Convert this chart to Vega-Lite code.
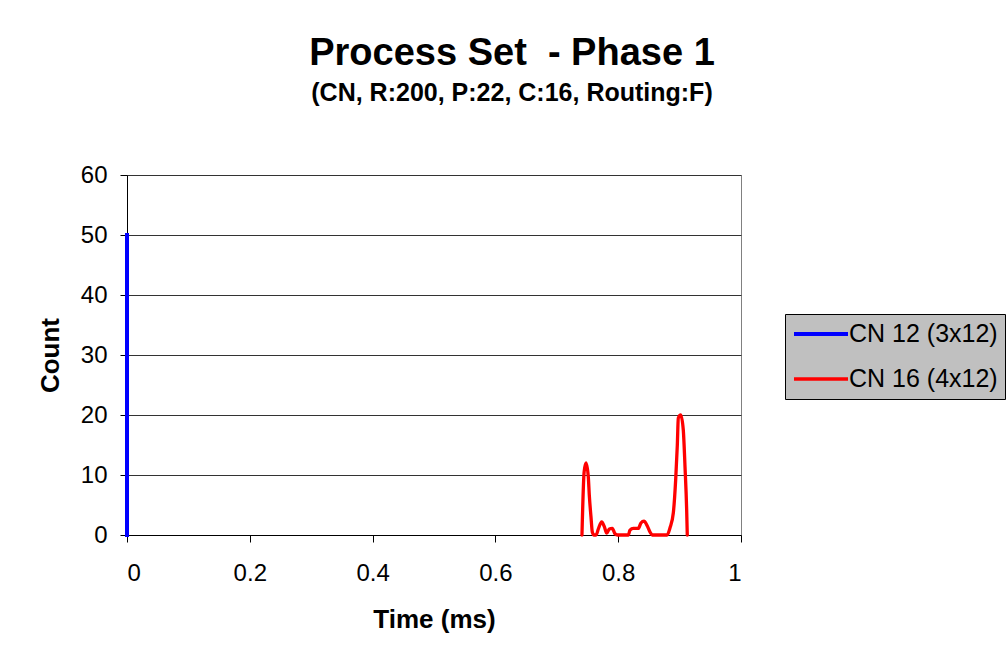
{
  "$schema": "https://vega.github.io/schema/vega-lite/v6.json",
  "width": 614,
  "height": 360,
  "autosize": {"type": "none"},
  "padding": {"left": 127, "top": 175, "right": 267, "bottom": 125},
  "background": "white",
  "title": {
    "text": "Process Set \u00a0- Phase 1",
    "subtitle": "(CN, R:200, P:22, C:16, Routing:F)",
    "anchor": "middle",
    "dx": 78,
    "offset": 57,
    "font": "Liberation Sans",
    "fontSize": 38,
    "fontWeight": "bold",
    "color": "black",
    "subtitleFont": "Liberation Sans",
    "subtitleFontSize": 25,
    "subtitleFontWeight": "bold",
    "subtitleColor": "black",
    "subtitlePadding": 8
  },
  "data": {
    "values": [
      {"series": "CN 12 (3x12)", "time": 0, "count": 0},
      {"series": "CN 12 (3x12)", "time": 0, "count": 50},
      {"series": "CN 16 (4x12)", "time": 0.741, "count": 0},
      {"series": "CN 16 (4x12)", "time": 0.7445, "count": 10.5},
      {"series": "CN 16 (4x12)", "time": 0.7476, "count": 12},
      {"series": "CN 16 (4x12)", "time": 0.7513, "count": 9.7},
      {"series": "CN 16 (4x12)", "time": 0.7529, "count": 6.7},
      {"series": "CN 16 (4x12)", "time": 0.7557, "count": 3},
      {"series": "CN 16 (4x12)", "time": 0.7578, "count": 0.5},
      {"series": "CN 16 (4x12)", "time": 0.7606, "count": 0},
      {"series": "CN 16 (4x12)", "time": 0.764, "count": 0},
      {"series": "CN 16 (4x12)", "time": 0.7676, "count": 1},
      {"series": "CN 16 (4x12)", "time": 0.7731, "count": 2.2},
      {"series": "CN 16 (4x12)", "time": 0.7774, "count": 1.4},
      {"series": "CN 16 (4x12)", "time": 0.7813, "count": 0.3},
      {"series": "CN 16 (4x12)", "time": 0.7855, "count": 1},
      {"series": "CN 16 (4x12)", "time": 0.7904, "count": 1.1},
      {"series": "CN 16 (4x12)", "time": 0.7948, "count": 0.2},
      {"series": "CN 16 (4x12)", "time": 0.799, "count": 0},
      {"series": "CN 16 (4x12)", "time": 0.8164, "count": 0},
      {"series": "CN 16 (4x12)", "time": 0.8192, "count": 0.8},
      {"series": "CN 16 (4x12)", "time": 0.8246, "count": 1.1},
      {"series": "CN 16 (4x12)", "time": 0.8327, "count": 1.1},
      {"series": "CN 16 (4x12)", "time": 0.8371, "count": 2},
      {"series": "CN 16 (4x12)", "time": 0.842, "count": 2.3},
      {"series": "CN 16 (4x12)", "time": 0.8474, "count": 1.5},
      {"series": "CN 16 (4x12)", "time": 0.8518, "count": 0.5},
      {"series": "CN 16 (4x12)", "time": 0.8555, "count": 0},
      {"series": "CN 16 (4x12)", "time": 0.8795, "count": 0},
      {"series": "CN 16 (4x12)", "time": 0.8844, "count": 1.2},
      {"series": "CN 16 (4x12)", "time": 0.8898, "count": 3.7},
      {"series": "CN 16 (4x12)", "time": 0.8936, "count": 9.2},
      {"series": "CN 16 (4x12)", "time": 0.8963, "count": 15},
      {"series": "CN 16 (4x12)", "time": 0.8979, "count": 19.5},
      {"series": "CN 16 (4x12)", "time": 0.9018, "count": 20},
      {"series": "CN 16 (4x12)", "time": 0.906, "count": 17.5},
      {"series": "CN 16 (4x12)", "time": 0.9088, "count": 11.4},
      {"series": "CN 16 (4x12)", "time": 0.9115, "count": 4.2},
      {"series": "CN 16 (4x12)", "time": 0.9125, "count": 0}
    ]
  },
  "encoding": {
    "x": {
      "field": "time",
      "type": "quantitative",
      "title": "Time (ms)",
      "scale": {"domain": [0, 1], "nice": false},
      "axis": {
        "values": [0, 0.2, 0.4, 0.6, 0.8, 1],
        "format": "~g",
        "grid": false,
        "tickSize": 7,
        "labelPadding": 19,
        "titlePadding": 21
      }
    },
    "y": {
      "field": "count",
      "type": "quantitative",
      "title": "Count",
      "scale": {"domain": [0, 60], "nice": false},
      "axis": {
        "values": [0, 10, 20, 30, 40, 50, 60],
        "grid": true,
        "tickSize": 7,
        "labelPadding": 13,
        "titlePadding": 17
      }
    },
    "color": {
      "field": "series",
      "type": "nominal",
      "title": null,
      "scale": {"domain": ["CN 12 (3x12)", "CN 16 (4x12)"], "range": ["#0000ff", "#ff0000"]}
    },
    "strokeWidth": {
      "field": "series",
      "type": "nominal",
      "title": null,
      "scale": {"domain": ["CN 12 (3x12)", "CN 16 (4x12)"], "range": [4, 3.3]}
    },
    "order": {"field": "time", "type": "quantitative"}
  },
  "layer": [
    {
      "transform": [{"filter": "datum.series === 'CN 12 (3x12)'"}],
      "mark": {"type": "line", "interpolate": "linear", "strokeCap": "square"}
    },
    {
      "transform": [{"filter": "datum.series === 'CN 16 (4x12)'"}],
      "mark": {"type": "line", "interpolate": "monotone", "strokeJoin": "round", "strokeCap": "round"}
    }
  ],
  "config": {
    "font": "Liberation Sans",
    "view": {"stroke": "#808080", "strokeWidth": 1},
    "axis": {
      "domainColor": "black",
      "domainWidth": 1,
      "tickColor": "black",
      "tickWidth": 1,
      "gridColor": "#333333",
      "gridWidth": 1,
      "labelFont": "Liberation Sans",
      "labelFontSize": 24,
      "labelColor": "black",
      "titleFont": "Liberation Sans",
      "titleFontSize": 26,
      "titleFontWeight": "bold",
      "titleColor": "black"
    },
    "legend": {
      "orient": "none",
      "legendX": 658,
      "legendY": 139,
      "padding": 7,
      "fillColor": "#c0c0c0",
      "strokeColor": "black",
      "symbolType": "M-1,0H3.91",
      "symbolSize": 484,
      "labelFont": "Liberation Sans",
      "labelFontSize": 25,
      "labelColor": "black",
      "labelOffset": 31,
      "rowPadding": 19,
      "labelLimit": 300
    }
  }
}
